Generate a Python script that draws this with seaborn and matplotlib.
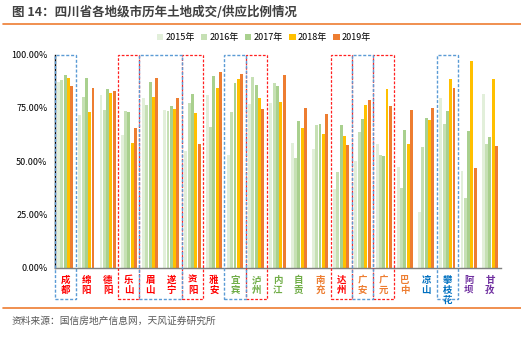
import matplotlib
matplotlib.use("Agg")
import matplotlib.pyplot as plt
import matplotlib.transforms as mtransforms
from matplotlib.patches import Rectangle
from matplotlib.lines import Line2D
import seaborn as sns
import pandas as pd

cities = ["成都", "绵阳", "德阳", "乐山", "眉山", "遂宁", "资阳", "雅安", "宜宾", "泸州", "内江",
          "自贡", "南充", "达州", "广安", "广元", "巴中", "凉山", "攀枝花", "阿坝", "甘孜"]
years = ["2015年", "2016年", "2017年", "2018年", "2019年"]
v2015 = [87.2, 71.6, 81.0, 62.2, 79.6, 73.9, 54.5, 81.0, 52.8, 76.6, 77.4, 58.3, 55.6, 37.0, 50.0, 58.1, 47.0, 25.9, 79.4, 45.3, 81.5]
v2016 = [88.0, 80.2, 73.9, 73.5, 76.3, 73.6, 77.1, 65.8, 72.9, 89.3, 86.8, 51.3, 67.1, 44.7, 63.5, 52.8, 37.2, 56.4, 67.2, 32.6, 58.0]
v2017 = [90.4, 88.8, 83.8, 73.0, 87.1, 75.8, 81.5, 89.9, 86.5, 85.7, 85.2, 68.8, 67.4, 66.9, 69.6, 52.3, 64.4, 70.0, 73.3, 64.2, 61.3]
v2018 = [88.8, 73.0, 82.1, 58.6, 80.0, 74.6, 72.5, 84.4, 88.3, 79.7, 77.7, 65.5, 62.7, 61.6, 76.1, 84.0, 58.0, 69.4, 88.3, 96.8, 88.3]
v2019 = [85.4, 84.3, 83.0, 65.5, 89.0, 79.4, 57.8, 91.9, 90.7, 74.3, 90.2, 75.0, 72.2, 57.5, 78.6, 75.8, 73.8, 75.0, 84.4, 46.7, 57.0]
yticks = [0, 0.25, 0.5, 0.75, 1.0]
ytick_labels = ["0.00%", "25.00%", "50.00%", "75.00%", "100.00%"]
label_colors = ["#ff0000"] * 8 + ["#70ad47"] * 4 + ["#ed7d31"] + ["#ff0000"] + ["#ed7d31"] * 3 + ["#0070c0"] * 2 + ["#7030a0"] * 2
red_boxes = [(3, 3), (6, 6), (9, 9), (13, 13), (15, 15)]
blue_boxes = [(0, 0), (4, 5), (8, 8), (14, 14), (18, 18)]

palette = ["#e2efda", "#c6e0b4", "#a9d08e", "#ffc000", "#ed7d31"]

rows = []
for yr, vals in zip(years, [v2015, v2016, v2017, v2018, v2019]):
    for c, v in zip(cities, vals):
        rows.append({"city": c, "year": yr, "value": v / 100.0})
df = pd.DataFrame(rows)

sns.set_style("white")
plt.rcParams["font.family"] = ["Noto Sans CJK SC", "DejaVu Sans"]

fig = plt.figure(figsize=(5.21, 3.37), dpi=100)
ax = fig.add_axes([54.5 / 521, (337 - 267.5) / 337, 446 / 521, 213 / 337])

sns.barplot(data=df, x="city", y="value", hue="year", palette=palette, order=cities,
            hue_order=years, width=0.78, gap=0.12, ax=ax, legend=False, saturation=1,
            linewidth=0, edgecolor="none")

ax.set_xlim(-0.5, len(cities) - 0.5)
ax.set_ylim(0, 1)
ax.set_yticks(yticks)
ax.set_yticklabels(ytick_labels, fontsize=6.5, color="#000000")
ax.set_xticks([i + 0.5 for i in range(-1, len(cities))])
ax.set_xticklabels([])
ax.tick_params(axis="x", direction="out", length=3, width=0.8, color="#595959")
ax.tick_params(axis="y", direction="out", length=3, width=0.8, color="#000000", pad=2)
ax.set_xlabel("")
ax.set_ylabel("")
for s in ["top", "right"]:
    ax.spines[s].set_visible(False)
ax.spines["left"].set_color("#000000")
ax.spines["left"].set_linewidth(1.0)
ax.spines["bottom"].set_color("#7f7f7f")
ax.spines["bottom"].set_linewidth(1.0)

trans = mtransforms.blended_transform_factory(ax.transData, ax.transAxes)
for i, (c, col) in enumerate(zip(cities, label_colors)):
    ax.text(i, -0.035, "\n".join(c), transform=trans, ha="center", va="top",
            fontsize=6.8, fontweight="bold", color=col, linespacing=1.0)

box_bottom = -0.148
for (a, b) in red_boxes:
    ax.add_patch(Rectangle((a - 0.5, box_bottom), b - a + 1, 1 - box_bottom, transform=trans,
                           fill=False, ec="#ff2020", ls=(0, (2.2, 1.3)), lw=0.9, clip_on=False, zorder=5))
for (a, b) in blue_boxes:
    ax.add_patch(Rectangle((a - 0.5, box_bottom), b - a + 1, 1 - box_bottom, transform=trans,
                           fill=False, ec="#5b9bd5", ls=(0, (2.2, 1.3)), lw=1.0, clip_on=False, zorder=5))

# legend
handles = [Rectangle((0, 0), 1, 1, fc=p, ec="none") for p in palette]
fig.legend(handles, years, loc="center", bbox_to_anchor=(264 / 521, 1 - 37.5 / 337), ncol=5,
           frameon=False, fontsize=6.5, handlelength=0.7, handleheight=0.7, handletextpad=0.25,
           columnspacing=0.7, labelcolor="#000000", borderpad=0)

# title and decorations
fig.text(12 / 521, 1 - 12 / 337, "图 14：四川省各地级市历年土地成交/供应比例情况", ha="left", va="center",
         fontsize=9, fontweight="bold", color="#404040")
fig.add_artist(Line2D([3 / 521, 1], [1 - 24 / 337] * 2, color="#ed7d31", lw=1.2))
fig.add_artist(Line2D([3 / 521, 1], [1 - 308 / 337] * 2, color="#ed7d31", lw=1.2))
fig.text(12 / 521, 1 - 321 / 337, "资料来源：国信房地产信息网，天风证券研究所", ha="left", va="center",
         fontsize=7, color="#595959")

fig.savefig("out.png", dpi=100)
